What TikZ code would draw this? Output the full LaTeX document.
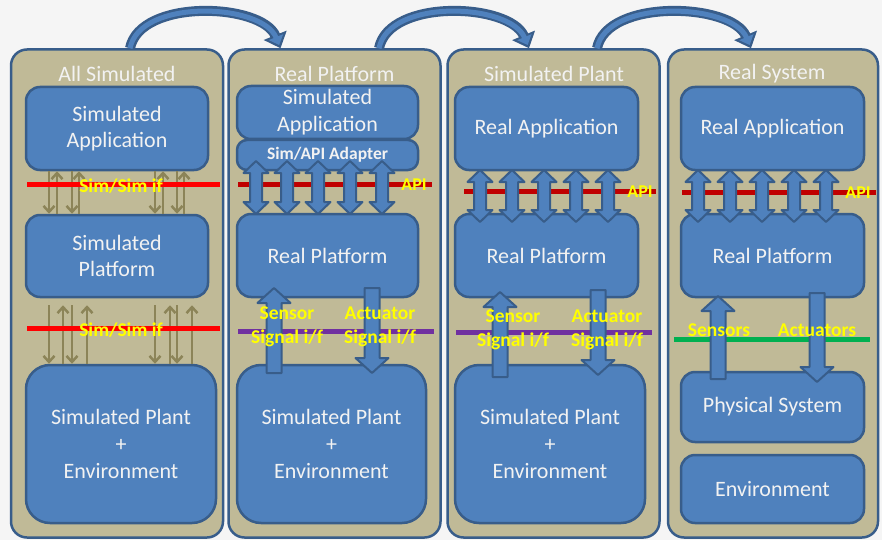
\documentclass[tikz,border=0pt]{standalone}
\usepackage{fontspec}
\setmainfont{Carlito}
\usetikzlibrary{arrows.meta}
\definecolor{bgc}{RGB}{245,245,245}
\definecolor{panelc}{RGB}{192,186,151}
\definecolor{bordc}{RGB}{56,93,138}
\definecolor{boxc}{RGB}{79,129,189}
\definecolor{olivec}{RGB}{140,132,88}
\definecolor{redc}{RGB}{255,0,0}
\definecolor{dredc}{RGB}{192,0,0}
\definecolor{purc}{RGB}{112,48,160}
\definecolor{greenc}{RGB}{0,176,80}
\definecolor{yelc}{RGB}{255,255,0}
\definecolor{txtc}{RGB}{242,242,242}
\tikzset{
 panel/.style={draw=bordc, fill=panelc, line width=2.5pt, rounded corners=16pt, minimum width=212pt, minimum height=488pt, inner sep=0pt},
 box/.style={draw=bordc, fill=boxc, line width=2.5pt, rounded corners=14pt, inner sep=0pt, text=txtc, align=center, font=\fontsize{22}{26}\selectfont},
 bigbox/.style={box, rounded corners=24pt, font=\fontsize{22}{27}\selectfont},
 ptitle/.style={text=txtc, font=\fontsize{22}{24}\selectfont, inner sep=0pt},
 ylab/.style={text=yelc, font=\bfseries\fontsize{19.5}{24}\selectfont, align=center, inner sep=0pt},
 apilab/.style={text=yelc, font=\bfseries\fontsize{18}{18}\selectfont, inner sep=0pt},
 thinarr/.style={draw=olivec, line width=2.5pt, -{Straight Barb[length=6pt,width=11pt]}},
 ifline/.style={line width=5pt},
 blockarr/.style={draw=bordc, fill=boxc, line width=2pt, line join=round},
 curvout/.style={draw=bordc, line width=10pt, -{Triangle[width=24pt,length=14pt]}},
 curvin/.style={draw=boxc, line width=5pt, shorten >=3.5pt, -{Triangle[width=15pt,length=8.5pt]}},
}
% double block arrow: x, ytop, ybottom
\newcommand\dblarr[3]{%
 \filldraw[blockarr] (#1,#2) -- ({#1+12.5},{#2+12}) -- ({#1+6},{#2+12}) -- ({#1+6},{#3-12}) -- ({#1+12.5},{#3-12}) -- (#1,#3) -- ({#1-12.5},{#3-12}) -- ({#1-6},{#3-12}) -- ({#1-6},{#2+12}) -- ({#1-12.5},{#2+12}) -- cycle;}
% up block arrow: x, ytip, ybottom
\newcommand\uparr[3]{%
 \filldraw[blockarr] (#1,#2) -- ({#1+16.5},{#2+15}) -- ({#1+7.5},{#2+15}) -- ({#1+7.5},#3) -- ({#1-7.5},#3) -- ({#1-7.5},{#2+15}) -- ({#1-16.5},{#2+15}) -- cycle;}
% down block arrow: x, ytop, ytip
\newcommand\dnarr[3]{%
 \filldraw[blockarr] ({#1-7.5},#2) -- ({#1+7.5},#2) -- ({#1+7.5},{#3-15}) -- ({#1+16.5},{#3-15}) -- (#1,#3) -- ({#1-16.5},{#3-15}) -- ({#1-7.5},{#3-15}) -- cycle;}
\begin{document}
\begin{tikzpicture}[x=1pt,y=-1pt]
\fill[bgc] (0,0) rectangle (882,540);
\useasboundingbox (0,0) rectangle (882,540);

% panels
\node[panel] (P1) at (117,293.5) {};
\node[panel] (P2) at (334.5,293.5) {};
\node[panel] (P3) at (553.5,293.5) {};
\node[panel, minimum width=210pt] (P4) at (773,293.5) {};

% curved transition arrows
\draw[curvout] ([xshift=13pt]P1.north) .. controls (140,-2) and (262,3) .. ([xshift=-54pt]P2.north);
\draw[curvin] ([xshift=13pt]P1.north) .. controls (140,-2) and (262,3) .. ([xshift=-54pt]P2.north);
\draw[curvout] ([xshift=44.5pt]P2.north) .. controls (389,-2) and (510,3) .. ([xshift=-24.5pt]P3.north);
\draw[curvin] ([xshift=44.5pt]P2.north) .. controls (389,-2) and (510,3) .. ([xshift=-24.5pt]P3.north);
\draw[curvout] ([xshift=43.5pt]P3.north) .. controls (607,-2) and (732,3) .. ([xshift=-22pt]P4.north);
\draw[curvin] ([xshift=43.5pt]P3.north) .. controls (607,-2) and (732,3) .. ([xshift=-22pt]P4.north);

% titles
\node[ptitle] (t1) at (117,74) {All Simulated};
\node[ptitle] (t2) at (334.5,74) {Real Platform};
\node[ptitle] (t3) at (554,74) {Simulated Plant};
\node[ptitle] (t4) at (772,74) {Real System};

% panel 1 boxes
\node[box, minimum width=182pt, minimum height=83pt] (p1app) at (117,128.5) {Simulated\\Application};
\node[box, minimum width=182pt, minimum height=82pt] (p1plat) at (117,256) {Simulated\\Platform};
\node[bigbox, minimum width=190pt, minimum height=158pt] (p1plant) at (121,444) {Simulated Plant\\+\\Environment};

% panel 2 boxes
\node[box, minimum width=181pt, minimum height=53pt, font=\fontsize{22}{27}\selectfont] (p2app) at (327.5,112.5) {Simulated\\Application};
\node[box, minimum width=181pt, minimum height=30pt, rounded corners=10pt, font=\bfseries\fontsize{17.5}{18}\selectfont] (p2adp) at (327.5,155) {Sim/API Adapter};
\node[box, minimum width=181pt, minimum height=83pt] (p2plat) at (327.5,255.5) {Real Platform};
\node[bigbox, minimum width=189pt, minimum height=158pt] (p2plant) at (331.5,444) {Simulated Plant\\+\\Environment};

% panel 3 boxes
\node[box, minimum width=183pt, minimum height=83pt] (p3app) at (546.5,128.5) {Real Application};
\node[box, minimum width=183pt, minimum height=83pt] (p3plat) at (546.5,255.5) {Real Platform};
\node[bigbox, minimum width=190pt, minimum height=158pt] (p3plant) at (550,444) {Simulated Plant\\+\\Environment};

% panel 4 boxes
\node[box, minimum width=183pt, minimum height=83pt] (p4app) at (772.5,128.5) {Real Application};
\node[box, minimum width=183pt, minimum height=83pt] (p4plat) at (772.5,255.5) {Real Platform};
\node[box, minimum width=183pt, minimum height=70pt] (p4phys) at (772.5,407) {Physical System};
\node[box, minimum width=183pt, minimum height=68pt] (p4env) at (772.5,489) {Environment};

% panel 1 thin arrows (app <-> platform)
\foreach \x in {49,72,155,177}
  \draw[thinarr] ([xshift={(\x-117)*1pt}]p1app.south) -- ([xshift={(\x-117)*1pt}]p1plat.north);
\foreach \x in {57,79,163,184}
  \draw[thinarr] ([xshift={(\x-117)*1pt}]p1plat.north) -- ([xshift={(\x-117)*1pt}]p1app.south);
% panel 1 thin arrows (platform <-> plant)
\foreach \x in {49,72,155,177}
  \draw[thinarr, shorten <=7pt] ([xshift={(\x-117)*1pt}]p1plat.south) -- ([xshift={(\x-121)*1pt}]p1plant.north);
\foreach \x in {63,87,170,192}
  \draw[thinarr, shorten >=7pt] ([xshift={(\x-121)*1pt}]p1plant.north) -- ([xshift={(\x-117)*1pt}]p1plat.south);

% interface lines
\draw[ifline, redc] (27,184) -- (220,184);
\draw[ifline, redc] (27,328) -- (220,328);
\draw[ifline, dredc] (238,184) -- (432,184);
\draw[ifline, dredc] (464,191) -- (656,191);
\draw[ifline, dredc] (682,192) -- (876,192);
\draw[ifline, purc] (238,331) -- (434,331);
\draw[ifline, purc] (456,332) -- (652,332);
\draw[ifline, greenc] (674,339) -- (870,339);

% API double block arrows
\foreach \x in {256,287,318,350,382} { \dblarr{\x}{161}{214} }
\foreach \x in {480,512,544,576,608} { \dblarr{\x}{170}{222} }
\foreach \x in {698,730,762,794,826} { \dblarr{\x}{170}{222} }

% sensor / actuator arrows
\uparr{274}{288}{373}
\dnarr{372}{288}{373}
\uparr{500}{292}{377}
\dnarr{598}{290}{375}
\uparr{718}{296}{379}
\dnarr{817}{293}{382}

% labels
\node[ylab] (l1) at (121,186) {Sim/Sim if};
\node[ylab] (l2) at (121,330) {Sim/Sim if};
\node[apilab] (api2) at (414,185) {API};
\node[apilab] (api3) at (640,192) {API};
\node[apilab] (api4) at (858,193) {API};
\node[ylab] (s2) at (287,327) {Sensor\\Signal i/f};
\node[ylab] (a2) at (380,327) {Actuator\\Signal i/f};
\node[ylab] (s3) at (513,329.5) {Sensor\\Signal i/f};
\node[ylab] (a3) at (607,329.5) {Actuator\\Signal i/f};
\node[ylab] (s4) at (719,330) {Sensors};
\node[ylab] (a4) at (817,330) {Actuators};
\end{tikzpicture}
\end{document}
